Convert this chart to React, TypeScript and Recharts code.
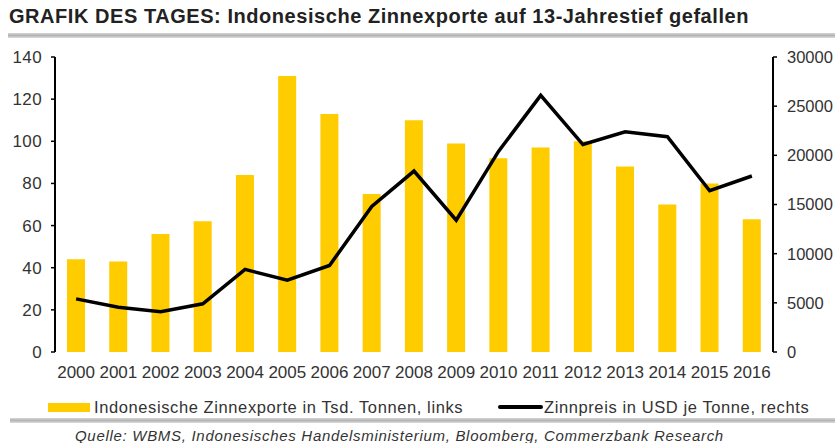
import React from "react";
import { Bar, ComposedChart, Line, XAxis, YAxis } from "recharts";

const YEARS = [
  "2000", "2001", "2002", "2003", "2004", "2005", "2006", "2007", "2008",
  "2009", "2010", "2011", "2012", "2013", "2014", "2015", "2016",
];

// Zinnexporte in Tsd. Tonnen (linke Achse)
const EXPORTS = [44, 43, 56, 62, 84, 131, 113, 75, 110, 99, 92, 97, 100, 88, 70, 80, 63];

// Zinnpreis in USD je Tonne (rechte Achse)
const PRICE = [
  5400, 4550, 4100, 4900, 8400, 7300, 8800, 14800, 18400, 13400, 20400, 26100,
  21100, 22400, 21900, 16400, 17900,
];

const LEFT_TICKS = [0, 20, 40, 60, 80, 100, 120, 140];
const RIGHT_TICKS = [0, 5000, 10000, 15000, 20000, 25000, 30000];
const BOUNDARY_TICKS = YEARS.map((_, i) => i).concat(YEARS.length);

const YELLOW = "#ffcc00";
const TEXT = "#333333";
const FONT = "'Liberation Sans', Arial, sans-serif";

const data = YEARS.map((year, i) => ({ year, exports: EXPORTS[i], price: PRICE[i] }));

function Rule({ top, left }: { top: number; left: number }) {
  return (
    <div
      style={{
        position: "absolute",
        top,
        left,
        right: 0,
        height: 5,
        background: "linear-gradient(to bottom, #d6d6d6, #b4b4b4 50%, #dedede)",
      }}
    />
  );
}

export default function App() {
  const xTickStyle = { fontSize: 17, fill: TEXT, fontFamily: FONT };
  const leftTickStyle = { fontSize: 17, fill: TEXT, fontFamily: FONT, letterSpacing: 0.4 };
  const rightTickStyle = { fontSize: 16.5, fill: TEXT, fontFamily: FONT };

  return (
    <div
      style={{
        position: "absolute",
        left: 0,
        top: 0,
        width: 835,
        height: 443,
        overflow: "hidden",
        background: "#fff",
        fontFamily: FONT,
      }}
    >
      <div
        style={{
          position: "absolute",
          left: 9,
          top: 5,
          fontSize: 20,
          fontWeight: "bold",
          color: "#222",
          whiteSpace: "nowrap",
          letterSpacing: 0.55,
        }}
      >
        GRAFIK DES TAGES: Indonesische Zinnexporte auf 13-Jahrestief gefallen
      </div>
      <Rule top={33} left={8} />

      <div style={{ position: "absolute", left: 0, top: 0 }}>
        <ComposedChart
          width={835}
          height={395}
          data={data}
          margin={{ top: 57, right: 0, bottom: 15, left: 0 }}
        >
          <XAxis
            xAxisId="grid"
            type="number"
            domain={[0, YEARS.length]}
            ticks={BOUNDARY_TICKS}
            interval={0}
            allowDataOverflow
            tick={false}
            tickSize={5}
            height={0}
            axisLine={{ stroke: "#000", strokeWidth: 2 }}
            tickLine={{ stroke: "#000", strokeWidth: 1.5 }}
          />
          <XAxis
            dataKey="year"
            interval={0}
            height={28}
            axisLine={false}
            tickLine={false}
            tickSize={0}
            tickMargin={14}
            tick={xTickStyle}
          />
          <YAxis
            yAxisId="left"
            domain={[0, 140]}
            ticks={LEFT_TICKS}
            interval={0}
            width={55}
            tickSize={4}
            tickMargin={9}
            axisLine={{ stroke: "#000", strokeWidth: 2 }}
            tickLine={{ stroke: "#000", strokeWidth: 1.5 }}
            tick={leftTickStyle}
          />
          <YAxis
            yAxisId="right"
            orientation="right"
            domain={[0, 30000]}
            ticks={RIGHT_TICKS}
            interval={0}
            width={62}
            tickSize={4}
            tickMargin={10}
            axisLine={{ stroke: "#000", strokeWidth: 2 }}
            tickLine={{ stroke: "#000", strokeWidth: 1.5 }}
            tick={rightTickStyle}
          />
          <Bar
            yAxisId="left"
            dataKey="exports"
            fill={YELLOW}
            barSize={18}
            isAnimationActive={false}
          />
          <Line
            yAxisId="right"
            dataKey="price"
            type="linear"
            stroke="#000"
            strokeWidth={3.5}
            dot={false}
            activeDot={false}
            isAnimationActive={false}
          />
        </ComposedChart>
      </div>

      <div
        style={{
          position: "absolute",
          top: 397,
          left: 0,
          height: 20,
          width: 835,
          fontSize: 16.5,
          color: TEXT,
          whiteSpace: "nowrap",
        }}
      >
        <div style={{ position: "absolute", left: 48, top: 6, width: 42, height: 9, background: YELLOW }} />
        <div style={{ position: "absolute", left: 94, top: 0, lineHeight: "20px", letterSpacing: 0.6 }}>
          Indonesische Zinnexporte in Tsd. Tonnen, links
        </div>
        <div style={{ position: "absolute", left: 498, top: 8, width: 45, height: 4, background: "#000", borderRadius: 2 }} />
        <div style={{ position: "absolute", left: 544, top: 0, lineHeight: "20px", letterSpacing: 0.6 }}>
          Zinnpreis in USD je Tonne, rechts
        </div>
      </div>

      <Rule top={418} left={10} />
      <div
        style={{
          position: "absolute",
          top: 427,
          left: 75,
          fontSize: 15,
          fontStyle: "italic",
          color: TEXT,
          lineHeight: "18px",
          whiteSpace: "nowrap",
          letterSpacing: 0.7,
        }}
      >
        Quelle: WBMS, Indonesisches Handelsministerium, Bloomberg, Commerzbank Research
      </div>
    </div>
  );
}
